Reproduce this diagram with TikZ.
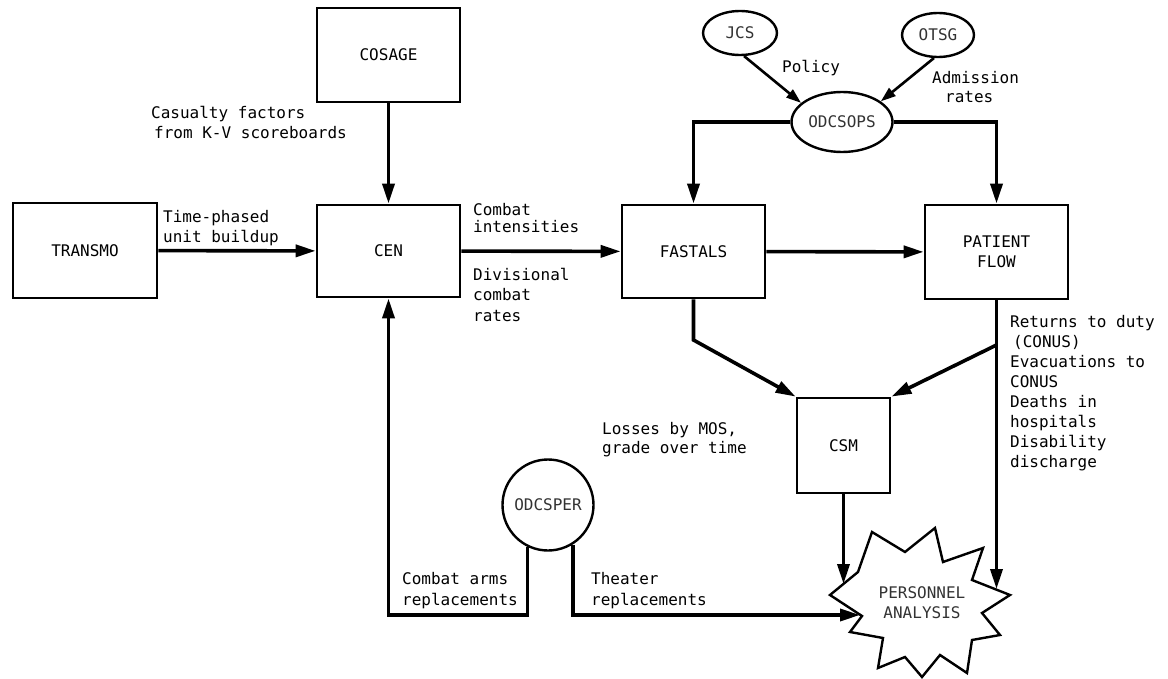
\documentclass[tikz,border=0pt]{standalone}
\usepackage{fontspec}
\newfontfamily\monofam{DejaVu Sans Mono}
\usetikzlibrary{arrows.meta,shapes.geometric}
\newcommand\labfont{\monofam\fontsize{16}{20}\selectfont}
\begin{document}
\begin{tikzpicture}[x=1pt,y=-1pt,
  box/.style={draw, line width=2.8pt, inner sep=0pt, font=\labfont, align=center},
  oval/.style={draw, ellipse, line width=2.4pt, inner sep=0pt, font=\labfont, text=black!80},
  arr/.style={line width=3.6pt, -{Triangle[length=20pt,width=12pt]}},
  thinarr/.style={line width=2.6pt, -{Triangle[length=15pt,width=10pt]}},
  lbl/.style={font=\labfont, inner sep=0pt, anchor=base west},
  starline/.style={draw, line width=2.4pt, line join=miter}]
\useasboundingbox (0,0) rectangle (1168,679);
\fill[white] (0,0) rectangle (1168,679);

% boxes
\node[box, minimum width=144pt, minimum height=95pt] (transmo) at (85,250.5) {TRANSMO};
\node[box, minimum width=143pt, minimum height=94pt] (cosage) at (388.5,55) {COSAGE};
\node[box, minimum width=143pt, minimum height=92pt] (cen) at (388.5,251) {CEN};
\node[box, minimum width=143pt, minimum height=93pt] (fastals) at (693.5,251.5) {FASTALS};
\node[box, minimum width=143pt, minimum height=94pt] (pf) at (996.5,252) {PATIENT\\FLOW};
\node[box, minimum width=93pt, minimum height=95pt] (csm) at (843.5,445.5) {CSM};

% ovals
\node[oval, minimum width=74pt, minimum height=44pt] (jcs) at (740,33) {JCS};
\node[oval, minimum width=72pt, minimum height=44pt] (otsg) at (938,35) {OTSG};
\node[oval, minimum width=101pt, minimum height=60pt] (odcsops) at (842,122) {ODCSOPS};
\node[draw, circle, line width=2.4pt, minimum size=91pt, inner sep=0pt, font=\labfont, text=black!80] (odcsper) at (548,505) {ODCSPER};

% starburst
\draw[starline] (830,595) -- (858,572) -- (872,532) -- (905,552) -- (935,528) -- (943,562)
  -- (983,548) -- (972,580) -- (1010,595) -- (982,613) -- (1000,635) -- (972,640)
  -- (967,673) -- (940,655) -- (922,677) -- (905,657) -- (878,668) -- (883,638)
  -- (850,632) -- (862,616) -- cycle;
\node[font=\labfont, align=center, inner sep=0pt, text=black!80] (pa) at (922,603) {PERSONNEL\\ANALYSIS};
\coordinate (paN1) at (843.5,584);
\coordinate (paN2) at (996.5,589);
\coordinate (paW) at (860,615);

% connectors
\draw[arr] (transmo) -- (cen);
\draw[arr] (cosage) -- (cen);
\draw[arr] (cen) -- (fastals);
\draw[arr] (fastals) -- (pf);
\draw[thinarr] (jcs.-80) -- (odcsops.155);
\draw[thinarr] (otsg.-100) -- (odcsops.28);
\draw[arr] (odcsops.west) -| (fastals.north);
\draw[arr] (odcsops.east) -| (pf.north);
\coordinate (fb) at (693.5,340);
\draw[arr] (fastals.south) -- (fb) -- (csm.north west);
\coordinate (pb) at (996.5,345);
\draw[arr] (pb) -- (csm.north east);
\draw[arr] (csm.south) -- (paN1);
\draw[arr] (pf.south) -- (paN2);
\coordinate (cl) at (388.5,615);
\draw[arr] (odcsper.-116) |- (cl) -- (cen.south);
\draw[arr] (odcsper.-58) |- (paW);

% labels
\node[lbl] (cf1) at (151,119) {Casualty factors};
\node[lbl] (cf2) at (154,139) {from K-V scoreboards};
\node[lbl] (tp1) at (163,223) {Time-phased};
\node[lbl] (tp2) at (163,243) {unit buildup};
\node[lbl] (ci1) at (473,216) {Combat};
\node[lbl] (ci2) at (473,233) {intensities};
\node[lbl] (dc1) at (473,281) {Divisional};
\node[lbl] (dc2) at (473,301) {combat};
\node[lbl] (dc3) at (473,321) {rates};
\node[lbl] (pol) at (782,73) {Policy};
\node[lbl] (ad1) at (932,84) {Admission};
\node[lbl] (ad2) at (945,103) {rates};
\node[lbl] (rt1) at (1010,327) {Returns to duty};
\node[lbl] (rt2) at (1013,347) {(CONUS)};
\node[lbl] (rt3) at (1010,367) {Evacuations to};
\node[lbl] (rt4) at (1010,387) {CONUS};
\node[lbl] (rt5) at (1010,407) {Deaths in};
\node[lbl] (rt6) at (1010,427) {hospitals};
\node[lbl] (rt7) at (1010,447) {Disability};
\node[lbl] (rt8) at (1010,467) {discharge};
\node[lbl] (lo1) at (602,434) {Losses by MOS,};
\node[lbl] (lo2) at (602,453) {grade over time};
\node[lbl] (ca1) at (402,584) {Combat arms};
\node[lbl] (ca2) at (402,605) {replacements};
\node[lbl] (th1) at (591,584) {Theater};
\node[lbl] (th2) at (591,605) {replacements};
\end{tikzpicture}
\end{document}
